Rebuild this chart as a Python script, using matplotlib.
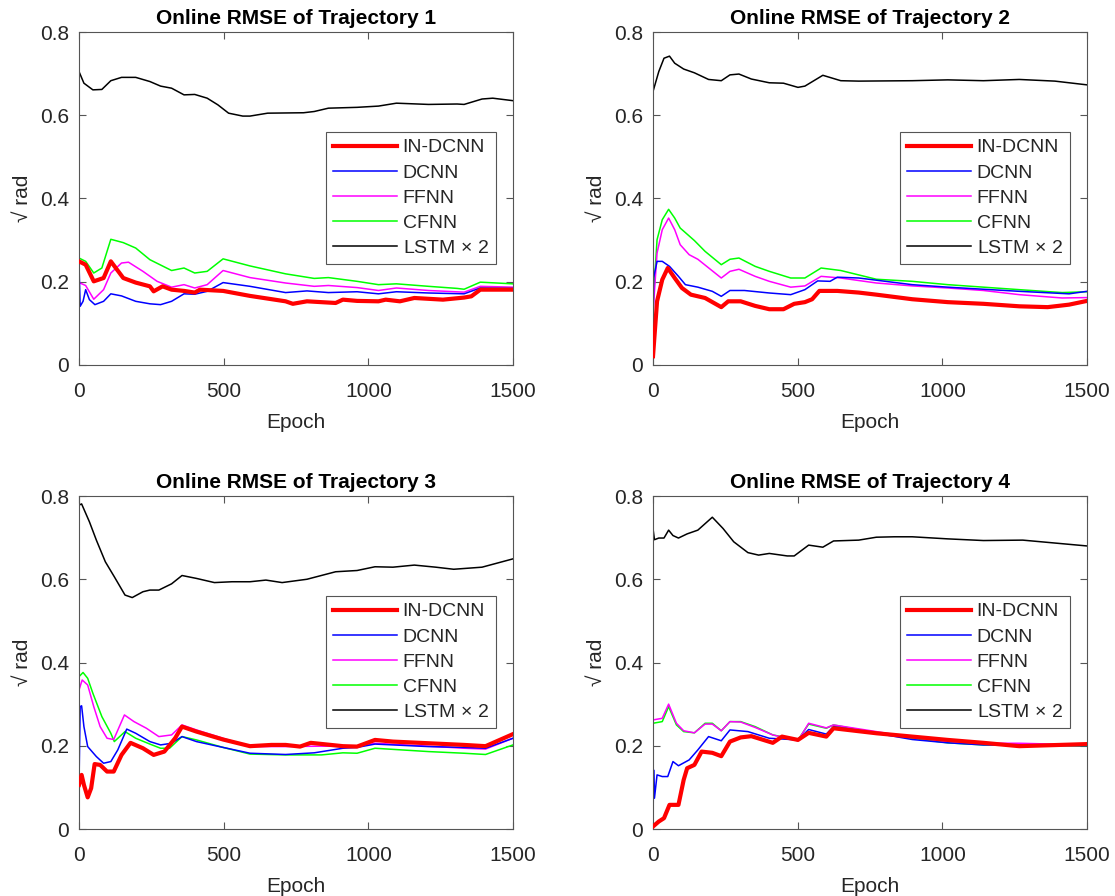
import numpy as np
import matplotlib
matplotlib.use('Agg')
import matplotlib.pyplot as plt

plt.rcParams['font.family'] = ['Liberation Sans', 'DejaVu Sans']
plt.rcParams['mathtext.fontset'] = 'custom'
plt.rcParams['mathtext.rm'] = 'Liberation Sans'

# 图例名称
labels = ['IN-DCNN', 'DCNN', 'FFNN', 'CFNN', r'LSTM $\times$ 2']
colors = ['#ff0000', '#0000ff', '#ff00ff', '#00ff00', '#000000']
titles = ['Online RMSE of Trajectory %d' % i for i in range(1, 5)]
x_ticks = [0, 500, 1000, 1500]
y_ticks = [0, 0.2, 0.4, 0.6, 0.8]

# ---------- 轨迹 1 ----------
traj1_in_dcnn = [(0, 0.249), (23, 0.241), (51, 0.201), (85, 0.209), (110, 0.249), (153, 0.209),
                 (196, 0.198), (245, 0.189), (258, 0.177), (289, 0.189), (320, 0.181), (363, 0.178),
                 (400, 0.174), (418, 0.181), (498, 0.178), (591, 0.166), (714, 0.153), (739, 0.147),
                 (788, 0.153), (887, 0.149), (912, 0.157), (961, 0.154), (1035, 0.153), (1060, 0.157),
                 (1109, 0.153), (1159, 0.161), (1258, 0.157), (1331, 0.162), (1356, 0.165),
                 (1387, 0.181), (1500, 0.181)]
traj1_dcnn = [(0, 0.245), (4, 0.141), (14, 0.153), (23, 0.181), (36, 0.157), (55, 0.145), (85, 0.153),
              (110, 0.171), (147, 0.166), (196, 0.153), (245, 0.147), (282, 0.145), (320, 0.153),
              (363, 0.171), (400, 0.170), (443, 0.177), (498, 0.198), (591, 0.189), (714, 0.174),
              (788, 0.178), (862, 0.174), (961, 0.176), (1035, 0.171), (1097, 0.176), (1208, 0.173),
              (1331, 0.171), (1387, 0.185), (1500, 0.184)]
traj1_ffnn = [(0, 0.198), (23, 0.191), (51, 0.158), (85, 0.181), (110, 0.221), (147, 0.245),
              (171, 0.247), (221, 0.225), (270, 0.201), (320, 0.187), (363, 0.193), (400, 0.185),
              (443, 0.193), (498, 0.227), (591, 0.210), (714, 0.197), (813, 0.189), (862, 0.191),
              (961, 0.186), (1035, 0.179), (1097, 0.185), (1208, 0.179), (1331, 0.175),
              (1387, 0.189), (1500, 0.187)]
traj1_cfnn = [(0, 0.257), (23, 0.249), (51, 0.221), (79, 0.233), (110, 0.302), (153, 0.294),
              (196, 0.281), (245, 0.253), (320, 0.227), (363, 0.233), (400, 0.221), (443, 0.225),
              (498, 0.255), (591, 0.238), (714, 0.219), (813, 0.208), (862, 0.210), (961, 0.201),
              (1035, 0.193), (1097, 0.195), (1208, 0.189), (1307, 0.184), (1331, 0.182),
              (1387, 0.199), (1500, 0.195)]
traj1_lstm = [(0, 0.705), (17, 0.677), (48, 0.661), (79, 0.662), (110, 0.683), (147, 0.691),
              (196, 0.691), (245, 0.681), (282, 0.670), (320, 0.665), (363, 0.649), (400, 0.650),
              (443, 0.641), (480, 0.625), (517, 0.605), (566, 0.598), (591, 0.598), (652, 0.605),
              (776, 0.606), (813, 0.609), (862, 0.617), (961, 0.619), (1035, 0.622), (1097, 0.629),
              (1208, 0.626), (1307, 0.627), (1331, 0.626), (1393, 0.639), (1430, 0.641),
              (1500, 0.635)]

# ---------- 轨迹 2 ----------
traj2_in_dcnn = [(0, 0.021), (14, 0.153), (32, 0.205), (51, 0.233), (75, 0.209), (100, 0.185),
                 (131, 0.169), (180, 0.161), (236, 0.139), (260, 0.153), (303, 0.153), (353, 0.142),
                 (402, 0.134), (451, 0.134), (488, 0.147), (525, 0.151), (550, 0.158), (575, 0.178),
                 (637, 0.178), (711, 0.174), (772, 0.169), (896, 0.158), (1019, 0.151), (1142, 0.147),
                 (1266, 0.141), (1364, 0.139), (1438, 0.145), (1500, 0.154)]
traj2_dcnn = [(0, 0.021), (2, 0.209), (14, 0.249), (32, 0.249), (57, 0.237), (88, 0.213), (112, 0.193),
              (155, 0.187), (205, 0.177), (236, 0.165), (266, 0.179), (316, 0.179), (402, 0.173),
              (476, 0.169), (525, 0.181), (569, 0.202), (612, 0.201), (637, 0.211), (711, 0.209),
              (896, 0.193), (1019, 0.187), (1142, 0.182), (1266, 0.177), (1438, 0.171),
              (1500, 0.177)]
traj2_ffnn = [(0, 0.125), (14, 0.269), (32, 0.325), (54, 0.353), (75, 0.325), (94, 0.289),
              (125, 0.265), (155, 0.254), (236, 0.209), (266, 0.225), (297, 0.230), (353, 0.213),
              (402, 0.201), (476, 0.187), (525, 0.190), (581, 0.213), (649, 0.209), (772, 0.197),
              (896, 0.190), (1019, 0.185), (1142, 0.179), (1266, 0.169), (1414, 0.161),
              (1500, 0.162)]
traj2_cfnn = [(0, 0.145), (14, 0.301), (32, 0.349), (54, 0.374), (75, 0.353), (94, 0.329),
              (143, 0.299), (180, 0.273), (236, 0.241), (266, 0.254), (297, 0.257), (353, 0.237),
              (402, 0.225), (476, 0.209), (525, 0.209), (581, 0.233), (649, 0.227), (772, 0.206),
              (896, 0.201), (1019, 0.193), (1142, 0.187), (1266, 0.181), (1414, 0.174),
              (1500, 0.176)]
traj2_lstm = [(0, 0.657), (20, 0.705), (38, 0.737), (57, 0.742), (75, 0.725), (106, 0.711),
              (143, 0.702), (192, 0.686), (236, 0.683), (266, 0.697), (297, 0.699), (340, 0.687),
              (402, 0.678), (451, 0.677), (501, 0.667), (525, 0.670), (587, 0.696), (649, 0.683),
              (711, 0.682), (896, 0.683), (1019, 0.685), (1142, 0.683), (1266, 0.686),
              (1389, 0.682), (1500, 0.673)]

# ---------- 轨迹 3 ----------
traj3_in_dcnn = [(0, 0.106), (9, 0.130), (17, 0.106), (30, 0.076), (42, 0.098), (54, 0.156),
                 (73, 0.154), (97, 0.138), (120, 0.138), (147, 0.178), (178, 0.207), (221, 0.194),
                 (258, 0.178), (295, 0.186), (332, 0.218), (356, 0.246), (406, 0.234), (498, 0.215),
                 (591, 0.199), (665, 0.202), (714, 0.202), (764, 0.198), (801, 0.207), (912, 0.199),
                 (961, 0.198), (1023, 0.214), (1085, 0.210), (1208, 0.206), (1331, 0.202),
                 (1405, 0.199), (1500, 0.228)]
traj3_dcnn = [(0, 0.106), (4, 0.294), (9, 0.296), (17, 0.246), (30, 0.198), (60, 0.174), (85, 0.158),
              (110, 0.162), (134, 0.190), (165, 0.240), (196, 0.230), (245, 0.210), (282, 0.202),
              (320, 0.206), (356, 0.222), (406, 0.210), (498, 0.196), (591, 0.182), (714, 0.179),
              (813, 0.183), (912, 0.194), (961, 0.196), (1023, 0.204), (1208, 0.198),
              (1331, 0.196), (1405, 0.194), (1500, 0.218)]
traj3_ffnn = [(0, 0.334), (11, 0.358), (30, 0.346), (51, 0.294), (73, 0.246), (97, 0.218),
              (120, 0.215), (157, 0.274), (190, 0.258), (233, 0.242), (276, 0.222), (320, 0.226),
              (356, 0.250), (406, 0.238), (498, 0.218), (591, 0.198), (714, 0.198), (838, 0.199),
              (961, 0.198), (1023, 0.206), (1208, 0.199), (1331, 0.194), (1405, 0.192),
              (1500, 0.218)]
traj3_cfnn = [(0, 0.366), (14, 0.376), (30, 0.362), (48, 0.326), (79, 0.270), (110, 0.230),
              (122, 0.210), (159, 0.234), (196, 0.218), (245, 0.204), (282, 0.194), (313, 0.194),
              (356, 0.222), (406, 0.214), (498, 0.196), (591, 0.180), (714, 0.178), (838, 0.178),
              (912, 0.183), (961, 0.182), (1023, 0.194), (1208, 0.186), (1331, 0.182),
              (1405, 0.179), (1500, 0.202)]
traj3_lstm = [(0, 0.778), (9, 0.781), (36, 0.738), (60, 0.694), (91, 0.642), (122, 0.606),
              (159, 0.562), (184, 0.556), (221, 0.570), (245, 0.574), (276, 0.574), (320, 0.589),
              (356, 0.609), (406, 0.602), (468, 0.592), (529, 0.594), (591, 0.594), (646, 0.598),
              (702, 0.592), (788, 0.600), (887, 0.618), (961, 0.621), (1023, 0.630), (1085, 0.629),
              (1159, 0.634), (1233, 0.629), (1295, 0.624), (1393, 0.629), (1500, 0.649)]

# ---------- 轨迹 4 ----------
traj4_in_dcnn = [(0, 0.006), (20, 0.018), (38, 0.026), (57, 0.058), (88, 0.058), (106, 0.118),
                 (118, 0.146), (143, 0.154), (168, 0.186), (205, 0.183), (236, 0.175), (266, 0.210),
                 (303, 0.220), (340, 0.223), (414, 0.207), (446, 0.222), (501, 0.214), (538, 0.231),
                 (599, 0.222), (624, 0.242), (772, 0.230), (896, 0.222), (1019, 0.214),
                 (1142, 0.207), (1266, 0.199), (1500, 0.204)]
traj4_dcnn = [(0, 0.006), (2, 0.142), (5, 0.074), (14, 0.130), (32, 0.126), (51, 0.126), (69, 0.162),
              (88, 0.152), (125, 0.166), (155, 0.190), (192, 0.222), (236, 0.212), (266, 0.238),
              (328, 0.234), (402, 0.218), (501, 0.214), (538, 0.239), (599, 0.228), (624, 0.246),
              (772, 0.230), (896, 0.215), (1019, 0.207), (1142, 0.202), (1266, 0.202),
              (1500, 0.200)]
traj4_ffnn = [(0, 0.262), (32, 0.266), (54, 0.300), (81, 0.254), (106, 0.236), (143, 0.231),
              (180, 0.252), (205, 0.252), (236, 0.236), (266, 0.258), (303, 0.257), (353, 0.244),
              (414, 0.226), (501, 0.212), (538, 0.254), (599, 0.243), (624, 0.250), (772, 0.234),
              (896, 0.220), (1019, 0.210), (1142, 0.206), (1266, 0.206), (1500, 0.202)]
traj4_cfnn = [(0, 0.254), (32, 0.258), (54, 0.294), (81, 0.250), (106, 0.234), (143, 0.231),
              (180, 0.254), (205, 0.254), (236, 0.236), (266, 0.258), (303, 0.258), (353, 0.246),
              (414, 0.226), (501, 0.214), (538, 0.252), (599, 0.242), (624, 0.250), (772, 0.231),
              (896, 0.218), (1019, 0.207), (1142, 0.202), (1266, 0.203), (1500, 0.199)]
traj4_lstm = [(0, 0.722), (5, 0.695), (20, 0.699), (38, 0.699), (54, 0.718), (69, 0.705), (88, 0.699),
              (118, 0.709), (155, 0.718), (205, 0.749), (242, 0.722), (279, 0.690), (328, 0.664),
              (365, 0.658), (402, 0.662), (464, 0.656), (488, 0.656), (538, 0.682), (587, 0.677),
              (624, 0.692), (711, 0.694), (772, 0.701), (834, 0.702), (896, 0.702), (1019, 0.697),
              (1142, 0.693), (1278, 0.694), (1389, 0.687), (1500, 0.680)]

all_traj = [
    [traj1_in_dcnn, traj1_dcnn, traj1_ffnn, traj1_cfnn, traj1_lstm],
    [traj2_in_dcnn, traj2_dcnn, traj2_ffnn, traj2_cfnn, traj2_lstm],
    [traj3_in_dcnn, traj3_dcnn, traj3_ffnn, traj3_cfnn, traj3_lstm],
    [traj4_in_dcnn, traj4_dcnn, traj4_ffnn, traj4_cfnn, traj4_lstm],
]

text_color = '#262626'
W, H = 1115, 896
fig = plt.figure(figsize=(W / 100, H / 100), dpi=100)

# 坐标轴位置（像素）
ax_boxes = [(79, 32), (653, 32), (79, 496), (653, 496)]
ax_w, ax_h = 434, 333

for k, (px, py) in enumerate(ax_boxes):
    ax = fig.add_axes([px / W, 1 - (py + ax_h) / H, ax_w / W, ax_h / H])
    series = all_traj[k]
    # 先画细线，最后画粗红线置于上层
    for j in [4, 3, 2, 1, 0]:
        pts = np.array(series[j])
        lw = 3.0 if j == 0 else 1.1
        ax.plot(pts[:, 0], pts[:, 1], color=colors[j], lw=lw, label=labels[j], zorder=3 if j == 0 else 2)

    ax.set_xlim(0, 1500)
    ax.set_ylim(0, 0.8)
    ax.set_xticks(x_ticks)
    ax.set_yticks(y_ticks)
    ax.set_yticklabels(['0', '0.2', '0.4', '0.6', '0.8'])
    ax.tick_params(direction='in', length=5, width=0.8, colors='#555555',
                   labelcolor=text_color, labelsize=15, top=True, right=True)
    ax.tick_params(axis='x', pad=12)
    ax.tick_params(axis='y', pad=7)
    for sp in ax.spines.values():
        sp.set_color('#555555')
        sp.set_linewidth(0.8)
    ax.set_title(titles[k], fontsize=15, fontweight='bold', color='black', pad=6)
    ax.set_xlabel('Epoch', fontsize=15, color=text_color, labelpad=9)
    ax.set_ylabel('\u221a rad', fontsize=15, color=text_color, labelpad=6)

    handles, labs = ax.get_legend_handles_labels()
    order = [4, 3, 2, 1, 0]
    leg = ax.legend([handles[i] for i in order], [labs[i] for i in order],
                    loc='upper right', bbox_to_anchor=(0.96, 0.70), fontsize=14,
                    frameon=True, fancybox=False, edgecolor='#555555', framealpha=1,
                    handlelength=3.3, handletextpad=0.3, labelspacing=0.39,
                    borderpad=0.35, borderaxespad=0)
    leg.get_frame().set_linewidth(0.8)
    for t in leg.get_texts():
        t.set_color(text_color)

fig.savefig('out.png', dpi=100)
